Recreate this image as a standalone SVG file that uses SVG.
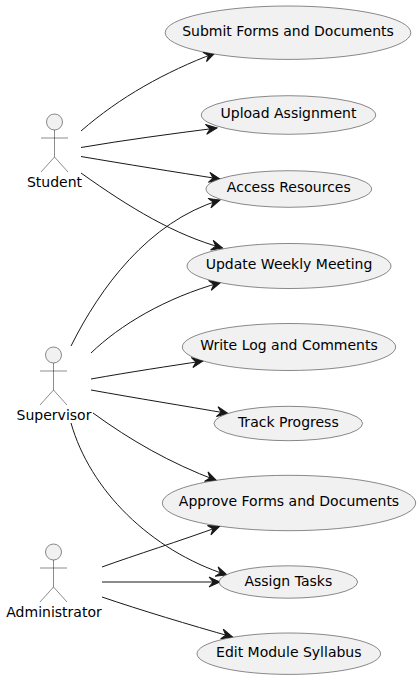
<svg xmlns="http://www.w3.org/2000/svg" width="420" height="679" viewBox="0 0 420 679">
<style>
text{font-family:"DejaVu Sans",sans-serif;font-size:14px;fill:#000}
.u text{text-anchor:middle}
.u ellipse{fill:#F1F1F1;stroke:#181818;stroke-width:.5}
.a circle{fill:#F1F1F1;stroke:#181818;stroke-width:.5}
.a path{fill:none;stroke:#181818;stroke-width:.5}
.a text{text-anchor:middle}
#connectors path{fill:none;stroke:#181818;stroke-width:1;marker-end:url(#arrow)}
</style>
<defs>
<marker id="arrow" markerUnits="userSpaceOnUse" markerWidth="16" markerHeight="14" refX="11" refY="5" orient="auto" viewBox="-1 -2 14 14" overflow="visible">
<path d="M0,0 L11,5 L0,10 L4,5 Z" fill="#181818" stroke="#181818" stroke-width="1"/>
</marker>
</defs>
<rect width="420" height="679" fill="#fff"/>
<g id="connectors">
<path d="M81,131 C120,97 165,72 215,53"/>
<path d="M81,147.500 C125,140 170,134 217,128"/>
<path d="M81,156.500 C125,164 175,172 220,179"/>
<path d="M81,173 C130,208 175,235 222.500,248"/>
<path d="M71,346 C100,288 148,222 220,200"/>
<path d="M91,353 C120,325 165,298 220.500,282.500"/>
<path d="M91,379 C130,372 170,366 203,361"/>
<path d="M91,390 C135,398 185,406 228,413.500"/>
<path d="M93,413 C130,440 170,463 216.500,480.500"/>
<path d="M71,423 C90,490 150,550 227,575"/>
<path d="M102,567 C135,555 180,541 219.500,526.500"/>
<path d="M102,582 L220,582"/>
<path d="M102,597 C140,610 190,625 232.500,637"/>
</g>
<g id="student" class="a"><circle cx="54.500" cy="122" r="8"/><path d="M54.500,130 V157 M41,138 H68 M54.500,157 L41,172 M54.500,157 L68,172"/><text x="54.500" y="187">Student</text></g>
<g id="supervisor" class="a"><circle cx="53.500" cy="355" r="8"/><path d="M53.500,363 V390 M40,371 H67 M53.500,390 L40,405 M53.500,390 L67,405"/><text x="54" y="420">Supervisor</text></g>
<g id="administrator" class="a"><circle cx="53.500" cy="552" r="8"/><path d="M53.500,560 V587 M40,568 H67 M53.500,587 L40,602 M53.500,587 L67,602"/><text x="54" y="617">Administrator</text></g>
<g id="submit" class="u"><ellipse cx="288" cy="32.700" rx="122.800" ry="26.700"/><text x="288" y="36">Submit Forms and Documents</text></g>
<g id="upload" class="u"><ellipse cx="288.500" cy="115" rx="87.200" ry="19.300"/><text x="288.500" y="118">Upload Assignment</text></g>
<g id="access" class="u"><ellipse cx="288.800" cy="189" rx="82.800" ry="18.300"/><text x="288.800" y="192">Access Resources</text></g>
<g id="update" class="u"><ellipse cx="289" cy="266" rx="102" ry="22.500"/><text x="289" y="269">Update Weekly Meeting</text></g>
<g id="write" class="u"><ellipse cx="289" cy="347" rx="106.700" ry="23.500"/><text x="289" y="350">Write Log and Comments</text></g>
<g id="track" class="u"><ellipse cx="288.300" cy="423.500" rx="74.300" ry="17.200"/><text x="288.300" y="427">Track Progress</text></g>
<g id="approve" class="u"><ellipse cx="289" cy="503" rx="126.700" ry="27.700"/><text x="289" y="506">Approve Forms and Documents</text></g>
<g id="assign" class="u"><ellipse cx="288.300" cy="582" rx="69.300" ry="16.200"/><text x="288.300" y="586">Assign Tasks</text></g>
<g id="edit" class="u"><ellipse cx="288.800" cy="653.700" rx="91.800" ry="20.700"/><text x="288.800" y="657">Edit Module Syllabus</text></g>
</svg>
